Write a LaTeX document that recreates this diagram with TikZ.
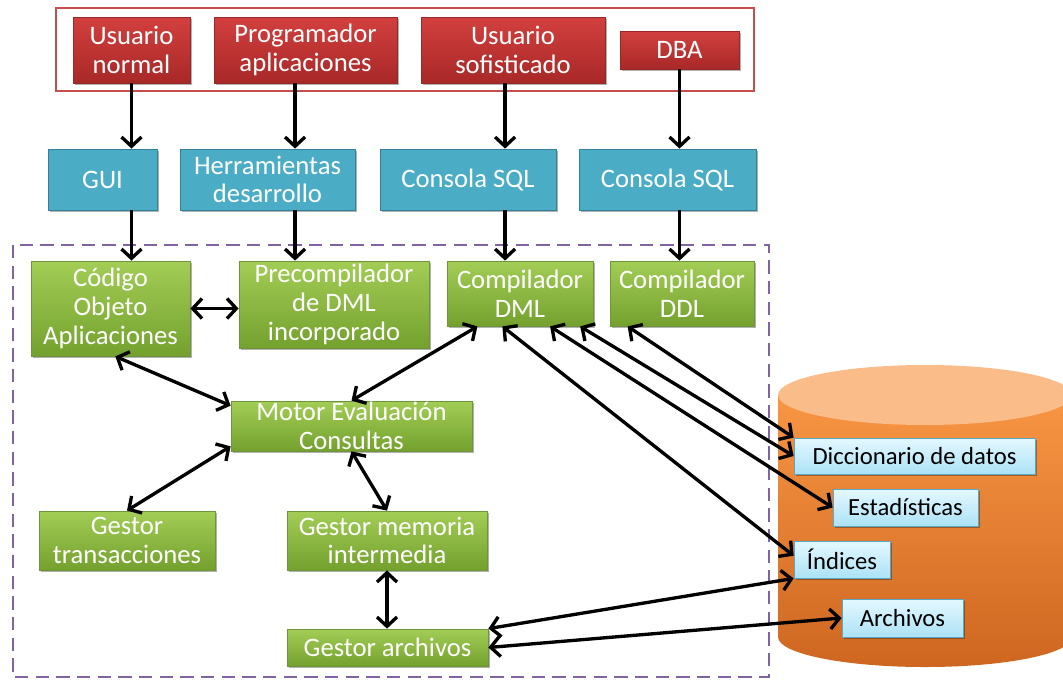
\documentclass[tikz,border=0pt]{standalone}
\usepackage{fontspec}
\setmainfont{Carlito}
\usetikzlibrary{arrows.meta,calc,shadows}

\definecolor{redtop}{RGB}{210,64,62}
\definecolor{redbot}{RGB}{168,40,40}
\definecolor{redline}{RGB}{150,40,40}
\definecolor{outerred}{RGB}{200,78,76}
\definecolor{bluefill}{RGB}{75,172,198}
\definecolor{blueline}{RGB}{52,128,155}
\definecolor{greentop}{RGB}{162,206,86}
\definecolor{greenbot}{RGB}{116,160,46}
\definecolor{greenline}{RGB}{112,148,58}
\definecolor{storetop}{RGB}{228,248,255}
\definecolor{storebot}{RGB}{172,226,246}
\definecolor{storeline}{RGB}{88,168,200}
\definecolor{cyltop}{RGB}{248,150,68}
\definecolor{cylbot}{RGB}{206,102,32}
\definecolor{cylcap}{RGB}{250,188,136}
\definecolor{dashpurple}{RGB}{128,100,162}

\newcommand\boxfont{\fontsize{20}{21.5}\selectfont}
\newcommand\storefont{\fontsize{18.5}{21}\selectfont}
% box from its corners: style, name, x1, y1, x2, y2, text
\newcommand\boxat[7]{%
  \node[#1, minimum width={(#5-#3)*0.75pt}, minimum height={(#6-#4)*0.75pt}]
    (#2) at ({(#3+#5)/2},{(#4+#6)/2}) {#7};}

\begin{document}
\begin{tikzpicture}[x=0.75pt,y=-0.75pt,
  box/.style={inner sep=0pt, align=center, text=white, font=\boxfont,
    drop shadow={shadow xshift=1.2pt, shadow yshift=-1.2pt, opacity=0.3, fill=black}},
  redbox/.style={box, draw=redline, line width=0.5pt, top color=redtop, bottom color=redbot},
  bluebox/.style={box, draw=blueline, line width=0.6pt, fill=bluefill},
  greenbox/.style={box, draw=greenline, line width=0.6pt, top color=greentop, bottom color=greenbot},
  storebox/.style={box, draw=storeline, line width=0.6pt, top color=storetop, bottom color=storebot,
    text=black, font=\storefont},
  tip/.tip={Straight Barb[length=7pt,width=15pt]},
  arr/.style={line width=2.5pt, -tip},
  dbl/.style={line width=2.5pt, tip-tip}]

\useasboundingbox (0,0) rectangle (1063,679);
\clip (0,0) rectangle (1063,679);

% database cylinder
\shade[top color=cyltop, bottom color=cylbot]
  (778,395) -- (778,637) arc[start angle=180, end angle=0, x radius=147, y radius=30]
  -- (1072,395) -- cycle;
\fill[cylcap] (925,395) ellipse[x radius=147, y radius=30];

% frames
\draw[outerred, line width=1.5pt] (56,8) rectangle (754,91);
\draw[dashpurple, line width=1.6pt, dash pattern=on 10pt off 5.5pt] (13,245) rectangle (769,677);

% users
\boxat{redbox}{un}{73}{17}{190}{83}{Usuario\\normal}
\boxat{redbox}{pa}{214}{17}{397}{83}{Programador\\aplicaciones}
\boxat{redbox}{us}{421}{17}{605}{83}{Usuario\\sofisticado}
\boxat{redbox}{dba}{620}{31}{739}{69}{DBA}

% interfaces
\boxat{bluebox}{gui}{48}{149}{157}{210}{GUI}
\boxat{bluebox}{hd}{180}{149}{355}{210}{Herramientas\\desarrollo}
\boxat{bluebox}{cs1}{380}{149}{556}{210}{Consola SQL}
\boxat{bluebox}{cs2}{579}{149}{756}{210}{Consola SQL}

% query processor and storage manager
\boxat{greenbox}{cod}{31}{261}{190}{356}{Código\\Objeto\\Aplicaciones}
\boxat{greenbox}{pre}{239}{261}{429}{348}{Precompilador\\de DML\\incorporado}
\boxat{greenbox}{cdml}{447}{261}{593}{326}{Compilador\\DML}
\boxat{greenbox}{cddl}{610}{261}{754}{326}{Compilador\\DDL}
\boxat{greenbox}{mot}{231}{401}{472}{451}{Motor Evaluación\\Consultas}
\boxat{greenbox}{gt}{39}{511}{215}{570}{Gestor\\transacciones}
\boxat{greenbox}{gm}{287}{511}{487}{570}{Gestor memoria\\intermedia}
\boxat{greenbox}{ga}{287}{629}{488}{666}{Gestor archivos}

% stored data
\boxat{storebox}{dic}{794}{438}{1035}{474}{Diccionario de datos}
\boxat{storebox}{est}{833}{489}{978}{526}{Estadísticas}
\boxat{storebox}{ind}{794}{541}{890}{578}{Índices}
\boxat{storebox}{arc}{842}{599}{963}{637}{Archivos}

% vertical flows
\coordinate (xp) at ($(pa.south west)!0.443!(pa.south east)$);
\coordinate (xs) at ($(us.south west)!0.457!(us.south east)$);
\draw[arr] (un.south) -- (un.south |- gui.north);
\draw[arr] (un.south |- gui.south) -- (un.south |- cod.north);
\draw[arr] (xp) -- (xp |- hd.north);
\draw[arr] (xp |- hd.south) -- (xp |- pre.north);
\draw[arr] (xs) -- (xs |- cs1.north);
\draw[arr] (xs |- cs1.south) -- (xs |- cdml.north);
\draw[arr] (dba.south) -- (dba.south |- cs2.north);
\draw[arr] (dba.south |- cs2.south) -- (dba.south |- cddl.north);

% two-way flows
\draw[dbl] (cod.east) -- (cod.east -| pre.west);
\draw[dbl] ($(cod.south west)!0.53!(cod.south east)$) -- ($(mot.north west)!0.1!(mot.south west)$);
\draw[dbl] ($(cdml.south west)!0.21!(cdml.south east)$) -- (mot.north);
\draw[dbl] ($(mot.north west)!0.9!(mot.south west)$) -- (gt.north);
\draw[dbl] (mot.south) -- (gm.north);
\draw[dbl] (gm.south) -- (gm.south |- ga.north);
\draw[dbl] (ga.north east) -- (ind.south west);
\draw[dbl] (ga.east) -- (arc.west);
\draw[dbl] ($(cdml.south west)!0.38!(cdml.south east)$) -- ($(ind.north west)!0.4!(ind.south west)$);
\draw[dbl] ($(cdml.south west)!0.705!(cdml.south east)$) -- (est.west);
\draw[dbl] ($(cdml.south west)!0.91!(cdml.south east)$) -- (dic.west);
\draw[dbl] ($(cddl.south west)!0.125!(cddl.south east)$) -- (dic.north west);

\end{tikzpicture}
\end{document}
